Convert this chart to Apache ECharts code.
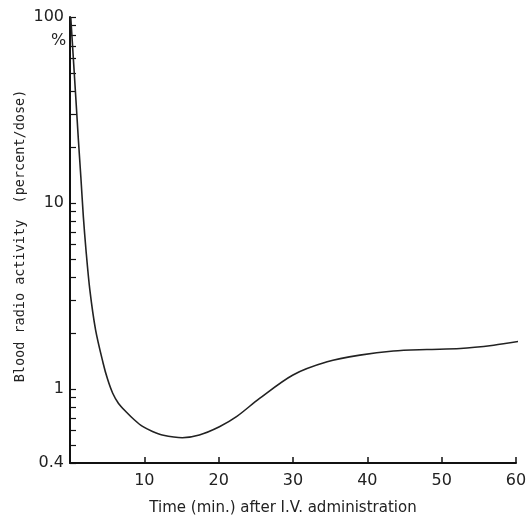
<!DOCTYPE html>
<html>
<head>
<meta charset="utf-8">
<script src="https://cdn.jsdelivr.net/npm/echarts@6/dist/echarts.min.js"></script>
<style>html,body{margin:0;padding:0;background:#fff}#c{width:531px;height:526px}</style>
</head>
<body>
<div id="c"></div>
<script>
// Time after I.V. administration (min)
var timeMin = [0.1, 0.8, 1.13, 1.46, 1.8, 2.15, 2.67, 3.44, 4.45, 5.05, 5.73, 6.53, 7.57, 8.68, 9.76, 11.1, 12.4, 15.1, 17.4, 20.1, 22.4, 25.5, 30, 34.6, 39, 43.5, 48, 52.5, 57, 60.3];
// Blood radio activity (percent/dose)
var activity = [100, 35.8, 21.8, 13.8, 8.4, 5.59, 3.41, 2.08, 1.38, 1.13, 0.952, 0.836, 0.752, 0.681, 0.629, 0.591, 0.566, 0.547, 0.566, 0.627, 0.71, 0.89, 1.19, 1.40, 1.52, 1.60, 1.63, 1.65, 1.72, 1.80];
var yTickValues = [0.4, 0.5, 0.6, 0.7, 0.8, 0.9, 1, 2, 3, 4, 5, 6, 7, 8, 9, 10, 20, 30, 40, 50, 60, 70, 80, 90, 100];
var yLabelValues = [0.4, 1, 10, 100];
var xLabelValues = [10, 20, 30, 40, 50, 60];

var font = 'DejaVu Sans';
var chart = echarts.init(document.getElementById('c'), null, {renderer: 'canvas'});
var pts = timeMin.map(function (t, i) { return [t, activity[i]]; });
chart.setOption({
  animation: false,
  backgroundColor: '#fff',
  grid: {left: 70, top: 17, width: 446, height: 446, containLabel: false},
  xAxis: {
    type: 'value', min: 0, max: 60, interval: 10,
    splitLine: {show: false},
    axisLine: {show: true, lineStyle: {color: '#111', width: 2}},
    axisTick: {show: true, inside: true, length: 6, lineStyle: {color: '#111', width: 1.5}, customValues: xLabelValues},
    axisLabel: {customValues: xLabelValues, color: '#222', fontFamily: font, fontSize: 16, margin: 10}
  },
  yAxis: {
    type: 'log', logBase: 10, min: 0.4, max: 100,
    splitLine: {show: false},
    axisLine: {show: true, lineStyle: {color: '#111', width: 2}},
    axisTick: {show: true, inside: true, length: 6, lineStyle: {color: '#111', width: 1.2}, customValues: yTickValues},
    axisLabel: {
      customValues: yLabelValues, color: '#222', fontFamily: font, fontSize: 16, margin: 6,
      formatter: function (v) { return String(+v.toPrecision(3)); }
    }
  },
  graphic: [
    {type: 'text', left: 51, top: 33, style: {text: '%', font: '16px ' + font, fill: '#222'}},
    {type: 'text', x: 283, y: 508, style: {text: 'Time (min.) after I.V. administration', font: '15px ' + font, fill: '#222', align: 'center', verticalAlign: 'middle'}},
    {type: 'text', x: 20, y: 236, rotation: Math.PI / 2, style: {text: 'Blood radio activity  (percent/dose)', font: '13.5px DejaVu Sans Mono', fill: '#222', align: 'center', verticalAlign: 'middle'}}
  ],
  series: [{
    type: 'line', data: pts, showSymbol: false, smooth: 0.3,
    lineStyle: {color: '#222', width: 1.6}
  }]
});
</script>
</body>
</html>
